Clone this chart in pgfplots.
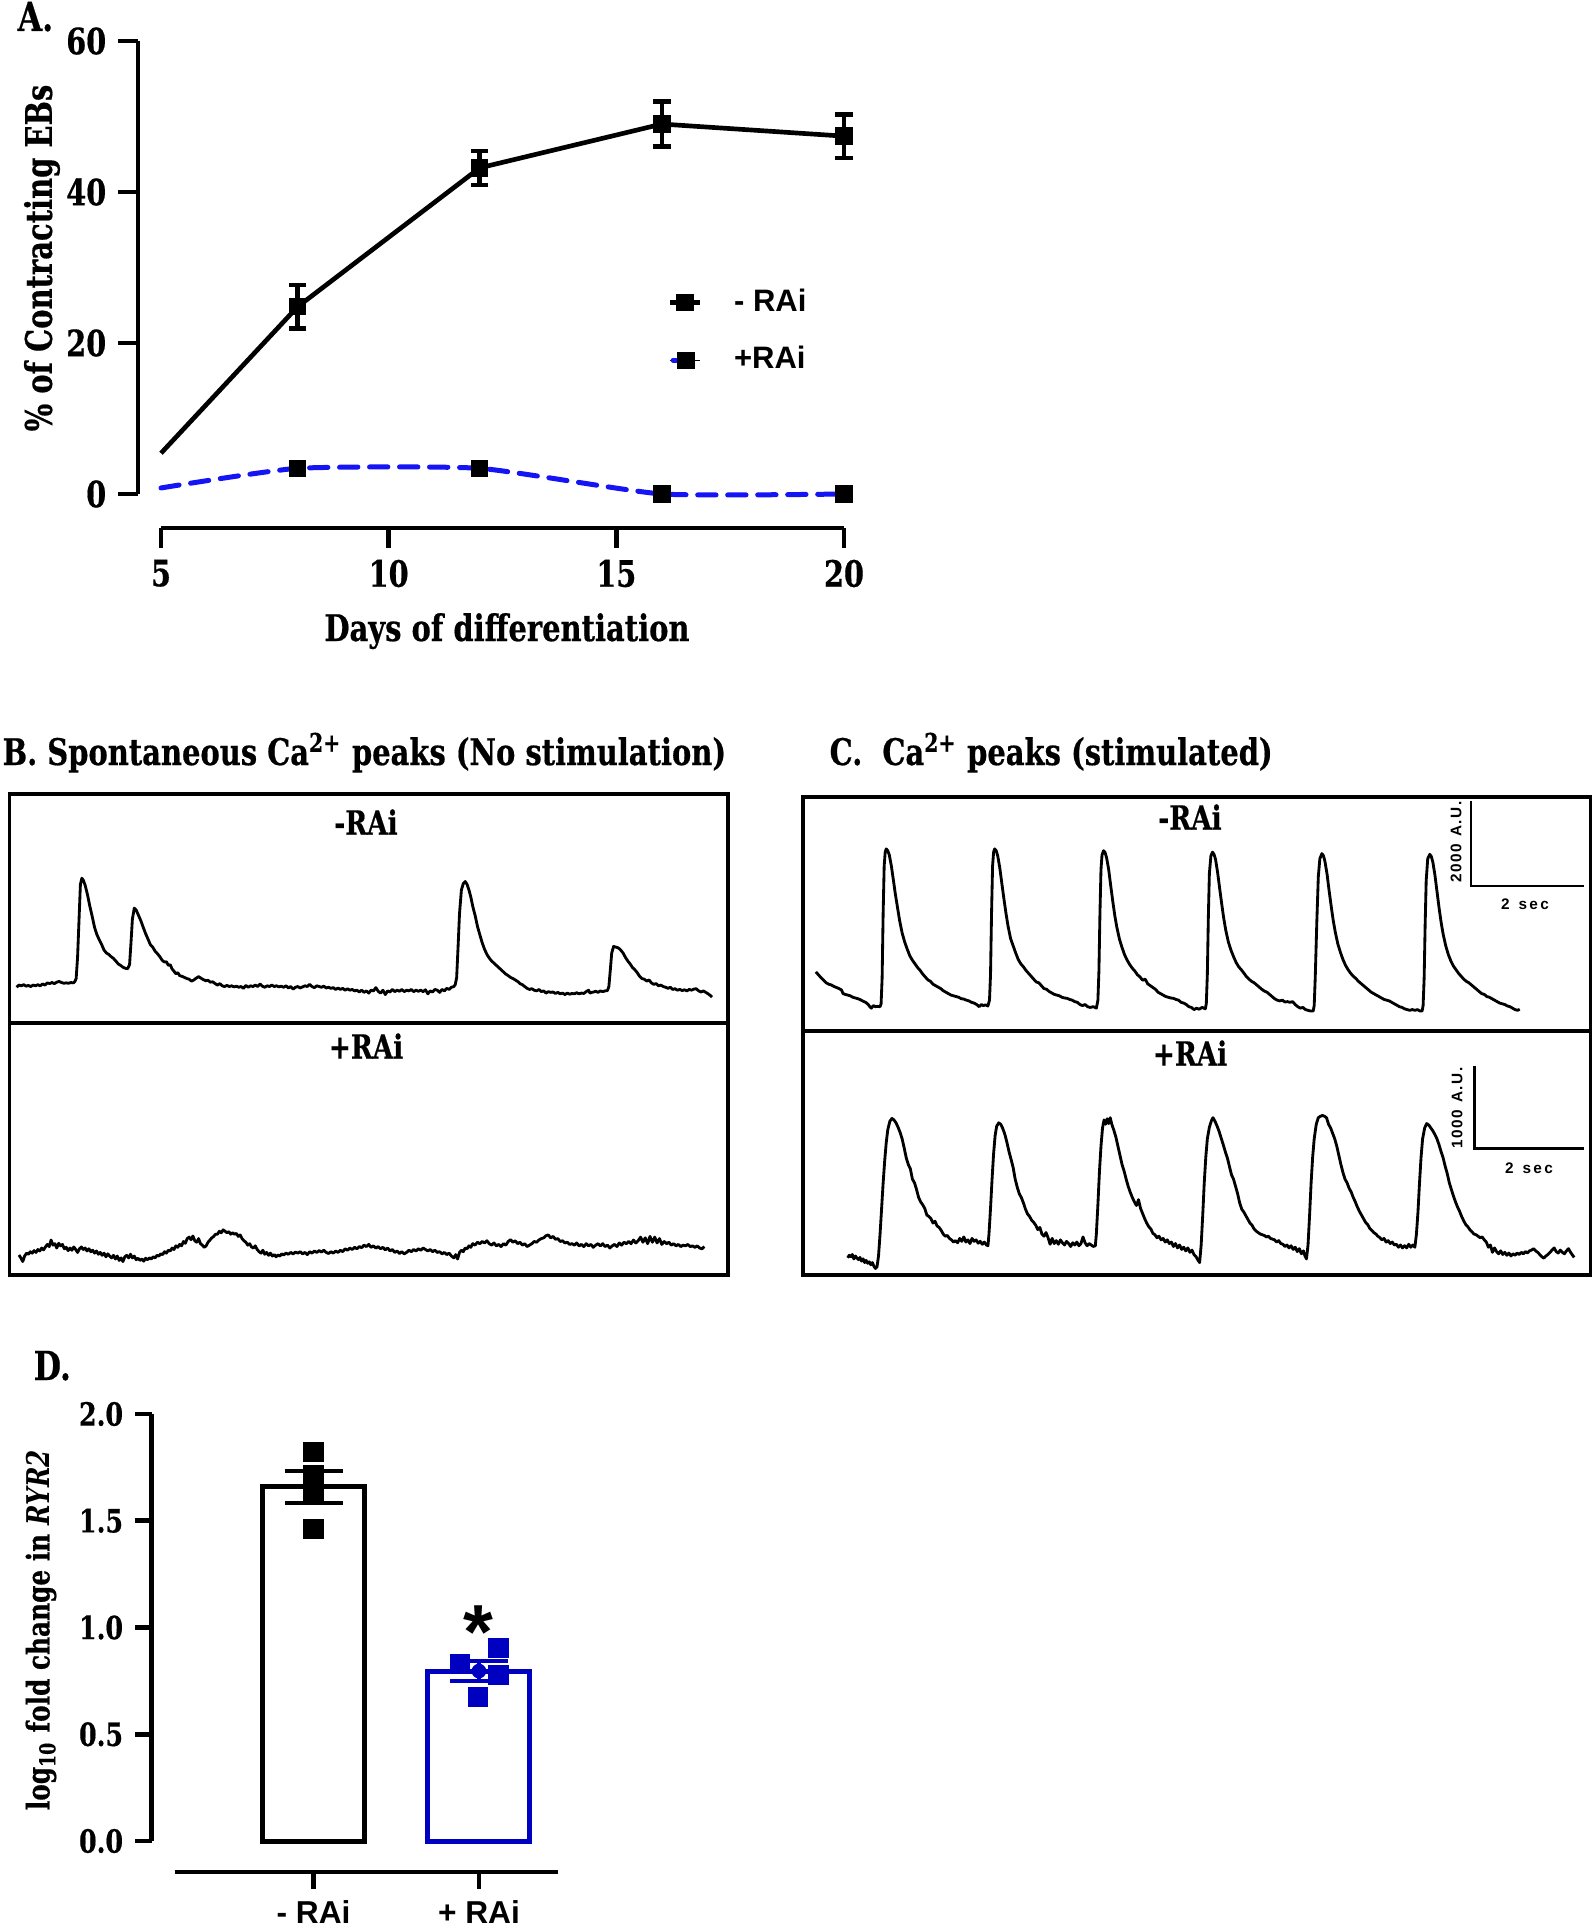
\documentclass[border=0pt]{standalone}
\usepackage{pgfplots}
\pgfplotsset{compat=1.18}
\usepackage{fontspec}
\setmainfont{DejaVu Serif}[FakeStretch=0.79, BoldFeatures={FakeBold=0.5}]
\newfontfamily\sansfam{Liberation Sans}
\definecolor{ablue}{RGB}{20,20,245}
\definecolor{dblue}{RGB}{0,0,192}
\newcommand{\fs}[1]{\fontsize{#1}{#1}\selectfont}
\newcommand{\ls}{\kern0.45pt}
\newcommand{\lt}{\kern0.7pt}
\pgfplotsset{
  tracebox/.style={scale only axis, anchor=south west,
    xtick=\empty, ytick=\empty, y dir=reverse,
    axis line style={line width=1pt}},
  trace/.style={black, line width=0.85pt, mark=none, line join=round},
}
\begin{document}
\begin{tikzpicture}[x=0.3pt,y=0.3pt]
\useasboundingbox (0,0) rectangle (1594,-1930);

% ---------------- Panel A ----------------
\begin{axis}[
  at={(48.3pt,-148.2pt)}, anchor=south west, scale only axis,
  width=204.9pt, height=135.9pt,
  xmin=5, xmax=20, ymin=0, ymax=60,
  axis lines=left,
  axis line style={line width=1.4pt, -},
  axis x line shift=10.2pt, axis y line shift=6.9pt,
  xtick={5,10,15,20}, ytick={0,20,40,60},
  tick align=outside, major tick length=6pt,
  tick style={black, line width=1.4pt},
  ticklabel style={font=\bfseries\fs{10.9}},
  /pgf/number format/assume math mode=true,
  clip=false,
  legend style={at={(0.741,0.3587)}, anchor=west, draw=none, fill=none,
    inner sep=0pt, row sep=5pt, font=\sansfam\bfseries\fs{9.3},
    /tikz/every odd column/.append style={column sep=7.5pt}},
  legend cell align=left,
]
\addplot[black, line width=1.4pt, forget plot] coordinates {(5,5.4) (8,24.8) (12,43.2) (16,49.0) (20,47.4)};
\addplot[ablue, line width=1.5pt, dash pattern=on 5.5pt off 3.5pt, line cap=round, smooth, tension=0.3, forget plot]
  coordinates {(5,0.8) (8,3.4) (12,3.4) (16,0) (20,0)};
\addplot[only marks, mark=square*, mark size=2.4pt, black, forget plot,
  error bars/.cd, y dir=both, y explicit,
  error bar style={line width=1.4pt, black},
  error mark options={rotate=90, mark size=2.6pt, line width=1.4pt, black}]
  coordinates {(8,24.8) +- (0,2.9) (12,43.2) +- (0,2.25) (16,49.0) +- (0,3.0) (20,47.4) +- (0,2.9)};
\addplot[only marks, mark=square*, mark size=2.4pt, black, forget plot]
  coordinates {(8,3.4) (12,3.4) (16,0) (20,0)};
\addlegendimage{legend image code/.code={
  \draw[black,line width=1.4pt] (0pt,0pt) -- (9pt,0pt);
  \draw plot[only marks, black, mark=square*, mark size=2.4pt] coordinates {(4.5pt,0pt)};}}
\addlegendentry{- RAi}
\addlegendimage{legend image code/.code={
  \path (0pt,0pt) -- (9pt,0pt);
  \draw[ablue,line width=1.5pt,line cap=round] (0.9pt,0pt) -- (3.5pt,0pt);
  \draw plot[only marks, black, mark=square*, mark size=2.4pt] coordinates {(4.8pt,0pt)};}}
\addlegendentry{+RAi}
\end{axis}
\node[anchor=base west, inner sep=0] at (17,-31) {\bfseries\fs{12}A.};
\node[anchor=base, inner sep=0] at (507,-641) {\bfseries\fs{11}Days of differentiation};
\node[rotate=90, inner sep=0] at (42,-258) {\bfseries\fs{11}\% of Contracting EBs};

% ---------------- Titles B, C ----------------
\node[anchor=base west, inner sep=0] at (2,-765) {\bfseries\fs{11}B. Spontaneous Ca\textsuperscript{2+} peaks (No stimulation)};
\node[anchor=base west, inner sep=0] at (829,-765) {\bfseries\fs{11}C.\ \ Ca\textsuperscript{2+} peaks (stimulated)};

% ---------------- Panel B top ----------------
\begin{axis}[tracebox, at={(2.85pt,-306.9pt)}, width=215.55pt, height=68.7pt,
  xmin=20, xmax=1540, ymin=232, ymax=860]
\addplot[trace] coordinates {
(35,762) (40,756) (45,758) (50,755) (55,759) (60,757) (65,760) (70,756) (75,758) (80,755) (85,758) (90,753) (95,756) (100,750) (105,752) (110,749) (115,752) (120,748) (125,746) (130,749) (135,751) (140,750) (145,751) (150,749) (155,750) (158,747) (161,738) (164,680) (167,580) (170,480) (173,463) (176,468) (180,482) (185,508) (190,540) (195,568) (200,598) (205,618) (210,632) (215,645) (220,660) (225,668) (230,672) (235,678) (240,683) (245,690) (250,698) (255,702) (260,707) (265,710) (270,711) (274,700) (277,640) (280,575) (284,545) (288,550) (293,565) (298,580) (303,598) (308,615) (313,630) (318,645) (323,652) (328,663) (333,670) (338,678) (343,688) (348,693) (352,692) (356,702) (360,700) (364,712) (368,718) (372,725) (376,722) (380,730) (385,732) (390,735) (395,738) (400,740) (405,745) (410,742) (415,737) (420,733) (425,737) (430,741) (435,744) (440,743) (445,748) (450,747) (455,752) (460,756) (465,752) (470,758) (475,760) (480,757) (485,760) (490,758) (495,761) (500,759) (505,762) (510,760) (515,765) (520,757) (525,762) (530,758) (535,760) (540,756) (545,760) (550,753) (555,759) (560,762) (565,758) (570,760) (575,756) (580,760) (585,758) (590,761) (595,759) (600,762) (605,758) (610,764) (615,760) (620,767) (625,762) (630,760) (635,764) (640,761) (645,758) (650,760) (655,754) (660,760) (665,763) (670,758) (675,760) (680,762) (685,759) (690,764) (695,762) (700,765) (705,763) (710,768) (715,764) (720,768) (725,765) (730,770) (735,766) (740,770) (745,768) (750,772) (755,770) (760,775) (765,770) (770,776) (775,772) (780,778) (785,770) (790,772) (795,763) (800,773) (805,778) (810,770) (815,782) (820,772) (825,775) (830,768) (835,774) (840,770) (845,773) (850,768) (855,774) (860,770) (865,772) (870,768) (875,774) (880,770) (885,773) (890,770) (895,774) (900,769) (905,780) (910,772) (915,775) (920,768) (925,770) (930,776) (935,768) (940,772) (945,765) (950,768) (955,762) (960,760) (963,755) (966,735) (969,650) (972,560) (976,495) (980,478) (984,472) (988,480) (992,495) (996,515) (1000,540) (1005,565) (1010,595) (1015,618) (1020,640) (1025,658) (1030,672) (1035,682) (1040,690) (1045,696) (1050,702) (1055,708) (1060,714) (1065,720) (1070,726) (1075,730) (1080,735) (1085,738) (1090,742) (1095,746) (1100,752) (1105,755) (1110,760) (1115,765) (1120,768) (1125,766) (1130,770) (1135,772) (1140,768) (1145,774) (1150,772) (1155,778) (1160,774) (1165,776) (1170,775) (1175,779) (1180,776) (1185,780) (1190,778) (1195,782) (1200,778) (1205,781) (1210,779) (1215,780) (1220,777) (1225,780) (1230,778) (1235,779) (1240,774) (1245,770) (1248,778) (1252,776) (1256,775) (1260,773) (1265,776) (1270,772) (1275,774) (1280,772) (1285,771) (1288,760) (1291,715) (1294,668) (1298,650) (1303,652) (1308,654) (1313,660) (1318,668) (1323,680) (1328,690) (1333,698) (1338,708) (1343,714) (1348,722) (1353,732) (1358,738) (1363,740) (1368,745) (1373,742) (1378,750) (1383,754) (1388,752) (1393,758) (1398,756) (1403,760) (1408,762) (1413,765) (1418,762) (1423,768) (1428,766) (1433,770) (1438,768) (1443,771) (1448,769) (1453,772) (1458,768) (1463,770) (1468,767) (1473,766) (1478,772) (1483,775) (1488,772) (1493,776) (1498,780) (1503,785) (1506,789)};
\end{axis}

% ---------------- Panel B bottom ----------------
\begin{axis}[tracebox, at={(2.85pt,-382.5pt)}, width=215.55pt, height=75.6pt,
  xmin=20, xmax=1540, ymin=860, ymax=1552]
\addplot[trace] coordinates {
(40,1497) (44,1505) (48,1515) (52,1500) (56,1492) (60,1495) (64,1488) (68,1492) (72,1485) (76,1490) (80,1482) (84,1486) (88,1478) (92,1483) (96,1475) (100,1468) (104,1474) (108,1456) (112,1470) (116,1466) (120,1478) (124,1465) (128,1472) (132,1468) (136,1480) (140,1476) (144,1485) (148,1478) (152,1484) (156,1475) (160,1482) (164,1490) (168,1480) (172,1475) (176,1482) (180,1478) (184,1486) (188,1480) (192,1488) (196,1484) (200,1492) (204,1486) (208,1495) (212,1490) (216,1498) (220,1492) (224,1502) (228,1494) (232,1500) (236,1505) (240,1498) (244,1508) (248,1500) (252,1512) (256,1505) (260,1515) (264,1502) (268,1498) (272,1505) (276,1495) (280,1505) (284,1500) (288,1510) (292,1506) (296,1512) (300,1508) (304,1514) (308,1506) (312,1510) (316,1505) (320,1508) (324,1502) (328,1505) (332,1498) (336,1500) (340,1494) (344,1496) (348,1488) (352,1492) (356,1484) (360,1486) (364,1478) (368,1482) (372,1472) (376,1476) (380,1468) (384,1472) (388,1460) (392,1465) (396,1452) (400,1448) (404,1455) (408,1445) (412,1458) (416,1462) (420,1452) (424,1466) (428,1470) (432,1476) (436,1472) (440,1462) (444,1456) (448,1450) (452,1446) (456,1440) (460,1440) (464,1432) (468,1436) (472,1428) (476,1432) (480,1436) (484,1433) (488,1440) (492,1436) (496,1440) (500,1438) (504,1446) (508,1442) (512,1452) (516,1458) (520,1462) (524,1470) (528,1466) (532,1475) (536,1478) (540,1472) (544,1482) (548,1488) (552,1492) (556,1484) (560,1495) (564,1490) (568,1498) (572,1492) (576,1500) (580,1496) (584,1502) (588,1497) (592,1500) (596,1494) (600,1497) (605,1492) (610,1495) (615,1490) (620,1494) (625,1489) (630,1492) (635,1488) (640,1494) (645,1490) (650,1496) (655,1488) (660,1492) (665,1486) (670,1490) (675,1485) (680,1489) (685,1484) (690,1490) (695,1493) (700,1488) (705,1492) (710,1486) (715,1490) (720,1484) (725,1488) (730,1480) (735,1484) (740,1478) (745,1482) (750,1476) (755,1480) (760,1474) (765,1477) (770,1470) (775,1474) (780,1468) (785,1476) (790,1472) (795,1478) (800,1474) (805,1480) (810,1476) (815,1483) (820,1478) (825,1486) (830,1482) (835,1490) (840,1486) (845,1493) (850,1488) (855,1494) (860,1490) (865,1484) (870,1488) (875,1482) (880,1486) (885,1480) (890,1484) (895,1478) (900,1482) (905,1486) (910,1482) (915,1488) (920,1484) (925,1490) (930,1488) (935,1494) (940,1490) (945,1496) (950,1492) (955,1500) (960,1505) (964,1496) (968,1508) (972,1490) (976,1484) (980,1488) (984,1478) (988,1480) (992,1472) (996,1476) (1000,1466) (1005,1470) (1010,1462) (1015,1466) (1020,1460) (1025,1464) (1030,1458) (1035,1466) (1040,1470) (1045,1464) (1050,1472) (1055,1468) (1060,1474) (1065,1466) (1070,1470) (1075,1460) (1080,1455) (1085,1462) (1090,1458) (1095,1466) (1100,1462) (1105,1470) (1110,1466) (1115,1474) (1120,1470) (1125,1466) (1130,1460) (1135,1462) (1140,1456) (1145,1452) (1150,1450) (1155,1444) (1160,1442) (1165,1450) (1170,1446) (1175,1454) (1180,1452) (1185,1460) (1190,1458) (1195,1464) (1200,1462) (1205,1468) (1210,1466) (1215,1470) (1220,1464) (1225,1472) (1230,1468) (1235,1474) (1240,1466) (1245,1472) (1250,1468) (1255,1476) (1260,1470) (1265,1466) (1270,1472) (1275,1466) (1280,1474) (1285,1470) (1290,1478) (1295,1472) (1300,1468) (1305,1474) (1310,1464) (1315,1470) (1320,1462) (1325,1466) (1330,1460) (1335,1466) (1340,1456) (1345,1464) (1350,1458) (1355,1448) (1360,1462) (1365,1450) (1370,1466) (1375,1446) (1380,1462) (1385,1448) (1390,1464) (1395,1452) (1400,1468) (1405,1460) (1410,1466) (1415,1462) (1420,1470) (1425,1466) (1430,1472) (1435,1468) (1440,1474) (1445,1470) (1450,1472) (1455,1468) (1460,1474) (1465,1472) (1470,1476) (1475,1472) (1480,1478) (1485,1480) (1490,1474)};
\end{axis}
\node[inner sep=0] at (366,-822) {\bfseries\fs{10}-RAi};
\node[inner sep=0] at (366,-1046) {\bfseries\fs{10}+RAi};

% ---------------- Panel C top ----------------
\begin{axis}[tracebox, at={(240.9pt,-309.3pt)}, width=236.28pt, height=70.2pt,
  xmin=25, xmax=1558, ymin=240, ymax=885]
\addplot[trace] coordinates {
(50,722) (55,730) (60,738) (65,745) (70,752) (75,756) (80,758) (85,762) (90,765) (95,768) (100,772) (103,782) (107,784) (112,786) (117,788) (122,792) (127,794) (132,796) (137,799) (142,803) (147,806) (152,812) (155,818) (158,822) (162,815) (166,818) (170,817) (175,818)
(177,810) (179,740) (181,560) (183,430) (185,392) (187,383) (190,388) (193,400) (197,430) (201,470) (205,510) (209,545) (213,580) (218,615) (223,640) (228,660) (233,678) (238,690) (243,700) (248,710) (253,718) (258,728) (263,736) (268,744) (273,748) (278,756) (283,760) (288,764) (293,768) (298,774) (303,778) (308,782) (313,786) (318,788) (323,790) (328,792) (333,796) (338,797) (343,800) (348,802) (353,806) (358,808) (363,812) (368,818) (372,812) (376,815) (380,813) (385,816)
(388,800) (390,730) (392,560) (394,430) (396,392) (398,383) (401,388) (404,402) (408,435) (412,478) (416,520) (420,560) (424,595) (429,630) (434,650) (439,670) (444,688) (449,700) (454,708) (459,718) (464,726) (469,734) (474,742) (479,750) (484,752) (489,760) (494,768) (499,770) (504,776) (509,780) (514,784) (519,786) (524,788) (529,792) (534,794) (539,795) (544,798) (549,800) (554,804) (559,806) (564,812) (569,815) (574,812) (579,818) (584,820) (590,818) (596,822)
(599,800) (601,720) (603,560) (605,440) (607,400) (610,388) (613,393) (616,408) (620,440) (624,485) (628,528) (632,568) (636,600) (641,632) (646,655) (651,675) (656,690) (661,702) (666,712) (671,720) (676,730) (681,736) (686,745) (691,742) (696,755) (701,760) (706,765) (711,770) (716,778) (721,782) (726,786) (731,790) (736,792) (741,794) (746,795) (751,798) (756,800) (761,806) (766,808) (771,812) (776,818) (781,820) (786,826) (791,822) (796,825) (802,820) (808,824)
(810,810) (812,730) (814,570) (816,450) (819,402) (822,392) (825,398) (828,412) (832,448) (836,492) (840,535) (844,575) (848,608) (853,640) (858,662) (863,680) (868,696) (873,708) (878,716) (883,725) (888,735) (893,742) (898,748) (903,752) (908,758) (913,764) (918,770) (923,775) (928,778) (933,784) (938,790) (943,796) (948,800) (953,802) (958,800) (963,805) (968,804) (973,806) (978,804) (983,812) (988,818) (993,822) (998,820) (1003,826) (1008,828) (1013,830) (1018,830)
(1020,815) (1022,740) (1025,590) (1028,460) (1031,410) (1035,396) (1038,402) (1041,418) (1045,452) (1049,498) (1053,540) (1057,580) (1061,612) (1066,645) (1071,668) (1076,688) (1081,704) (1086,716) (1091,726) (1096,734) (1101,740) (1106,748) (1111,754) (1116,760) (1121,766) (1126,772) (1131,778) (1136,782) (1141,786) (1146,790) (1151,794) (1156,798) (1161,800) (1166,802) (1171,806) (1176,810) (1181,814) (1186,818) (1191,820) (1196,824) (1201,826) (1206,828) (1211,826) (1216,828) (1221,826) (1226,830) (1230,830)
(1232,815) (1234,740) (1236,590) (1238,470) (1241,410) (1245,398) (1248,404) (1251,420) (1255,455) (1259,500) (1263,545) (1267,585) (1271,618) (1276,650) (1281,674) (1286,692) (1291,706) (1296,716) (1301,726) (1306,734) (1311,742) (1316,748) (1321,752) (1326,758) (1331,764) (1336,770) (1341,776) (1346,782) (1351,784) (1356,790) (1361,792) (1366,796) (1371,800) (1376,804) (1381,808) (1386,810) (1391,812) (1396,816) (1401,818) (1406,822) (1411,826) (1416,828) (1420,825)};
\addplot[black, line width=0.8pt] coordinates {(1325,250) (1325,485) (1545,485)};
\end{axis}

% ---------------- Panel C bottom ----------------
\begin{axis}[tracebox, at={(240.9pt,-382.5pt)}, width=236.28pt, height=73.2pt,
  xmin=25, xmax=1558, ymin=885, ymax=1552]
\addplot[trace] coordinates {
(112,1505) (115,1498) (118,1502) (121,1496) (124,1508) (127,1500) (130,1506) (133,1510) (136,1504) (139,1514) (142,1508) (145,1518) (148,1512) (151,1520) (154,1516) (157,1524) (160,1518) (163,1528) (166,1534) (169,1530) (172,1500) (175,1440) (178,1370) (181,1300) (184,1240) (187,1190) (190,1155) (194,1132) (198,1124) (202,1128) (206,1136) (210,1148) (214,1162) (218,1180) (222,1205) (226,1232) (230,1250) (234,1262) (238,1290) (242,1300) (246,1318) (250,1340) (254,1352) (258,1360) (262,1370) (266,1388) (270,1392) (274,1398) (278,1410) (282,1405) (286,1418) (290,1422) (294,1430) (298,1440) (302,1446) (306,1444) (310,1452) (314,1456) (318,1462) (322,1458) (326,1464) (330,1452) (334,1460) (338,1448) (342,1462) (346,1456) (350,1466) (354,1452) (358,1460) (362,1456) (366,1465) (370,1460) (374,1468) (378,1462) (382,1470) (385,1472)
(387,1440) (390,1370) (393,1290) (396,1220) (399,1170) (402,1145) (406,1136) (410,1140) (414,1152) (418,1168) (422,1190) (426,1215) (430,1236) (434,1258) (438,1290) (442,1312) (446,1330) (450,1340) (454,1355) (458,1372) (462,1385) (466,1392) (470,1402) (474,1408) (478,1416) (482,1428) (486,1422) (490,1440) (494,1446) (498,1436) (502,1450) (506,1468) (510,1452) (514,1466) (518,1458) (522,1468) (526,1456) (530,1464) (534,1470) (538,1460) (542,1466) (546,1474) (550,1464) (554,1470) (558,1462) (562,1472) (566,1466) (570,1448) (574,1464) (578,1472) (582,1466) (586,1470) (590,1474) (594,1472)
(596,1440) (599,1360) (602,1270) (605,1200) (608,1150) (611,1128) (614,1140) (617,1125) (620,1138) (623,1122) (626,1140) (630,1156) (634,1175) (638,1200) (642,1225) (646,1250) (650,1268) (654,1290) (658,1310) (662,1326) (666,1340) (670,1352) (674,1362) (678,1346) (682,1370) (686,1384) (690,1398) (694,1410) (698,1420) (702,1426) (706,1438) (710,1442) (714,1450) (718,1446) (722,1456) (726,1452) (730,1462) (734,1456) (738,1466) (742,1462) (746,1474) (750,1466) (754,1478) (758,1470) (762,1482) (766,1476) (770,1486) (774,1478) (778,1490) (782,1484) (786,1496) (790,1502) (794,1512) (797,1518)
(800,1470) (803,1390) (806,1300) (809,1230) (812,1180) (816,1148) (820,1130) (823,1122) (827,1132) (831,1145) (835,1160) (839,1178) (843,1196) (847,1215) (851,1232) (855,1255) (859,1278) (863,1290) (867,1310) (871,1330) (875,1355) (879,1372) (883,1380) (887,1390) (891,1400) (895,1410) (899,1416) (903,1426) (907,1432) (911,1436) (915,1440) (919,1442) (923,1444) (927,1448) (931,1446) (935,1452) (939,1454) (943,1456) (947,1462) (951,1458) (955,1466) (959,1468) (963,1474) (967,1470) (971,1478) (975,1472) (979,1482) (983,1476) (987,1488) (991,1480) (995,1494) (999,1486) (1002,1500) (1005,1508)
(1008,1470) (1011,1390) (1014,1300) (1017,1230) (1020,1180) (1024,1140) (1028,1122) (1032,1118) (1036,1116) (1040,1118) (1044,1122) (1048,1140) (1052,1150) (1056,1165) (1060,1180) (1064,1200) (1068,1225) (1072,1250) (1076,1272) (1080,1290) (1084,1300) (1088,1315) (1092,1325) (1096,1340) (1100,1352) (1104,1366) (1108,1378) (1112,1388) (1116,1398) (1120,1408) (1124,1414) (1128,1424) (1132,1430) (1136,1436) (1140,1440) (1144,1446) (1148,1450) (1152,1456) (1156,1452) (1160,1462) (1164,1458) (1168,1466) (1172,1462) (1176,1470) (1180,1468) (1184,1476) (1188,1470) (1192,1478) (1196,1472) (1200,1478) (1204,1468) (1208,1476) (1212,1470) (1216,1476)
(1219,1440) (1222,1380) (1225,1300) (1228,1230) (1231,1180) (1235,1150) (1239,1138) (1243,1142) (1247,1150) (1251,1158) (1255,1168) (1259,1180) (1263,1196) (1267,1215) (1271,1232) (1275,1255) (1279,1275) (1283,1300) (1287,1318) (1291,1336) (1295,1352) (1299,1366) (1303,1378) (1307,1392) (1311,1404) (1315,1414) (1319,1420) (1323,1428) (1327,1434) (1331,1440) (1335,1442) (1339,1446) (1343,1450) (1347,1448) (1351,1456) (1355,1462) (1359,1476) (1363,1470) (1367,1490) (1371,1478) (1375,1488) (1379,1494) (1383,1486) (1387,1496) (1391,1490) (1395,1498) (1399,1492) (1403,1500) (1407,1494) (1411,1498) (1415,1492) (1419,1496) (1423,1490) (1427,1494) (1431,1488) (1435,1492) (1439,1486) (1443,1484) (1447,1480) (1451,1486) (1455,1490) (1459,1496) (1463,1502) (1467,1506) (1471,1500) (1475,1496) (1479,1490) (1483,1484) (1487,1478) (1491,1488) (1495,1492) (1499,1484) (1503,1490) (1507,1494) (1511,1486) (1515,1480) (1519,1490) (1523,1498) (1526,1504)};
\addplot[black, line width=0.8pt] coordinates {(1332,980) (1332,1207) (1545,1207)};
\end{axis}
\node[inner sep=0] at (1190,-817) {\bfseries\fs{10}-RAi};
\node[inner sep=0] at (1190,-1053) {\bfseries\fs{10}+RAi};
\node[rotate=90, inner sep=0] at (1456,-842) {\sansfam\bfseries\fs{4.6}2\ls0\ls0\ls0\ls\ \ls A\ls.\ls U\ls.};
\node[inner sep=0] at (1525,-904) {\sansfam\bfseries\fs{4.6}2\lt\ \lt s\lt e\lt c};
\node[rotate=90, inner sep=0] at (1457,-1108) {\sansfam\bfseries\fs{4.6}1\ls0\ls0\ls0\ls\ \ls A\ls.\ls U\ls.};
\node[inner sep=0] at (1529,-1168) {\sansfam\bfseries\fs{4.6}2\lt\ \lt s\lt e\lt c};

% ---------------- Panel D ----------------
\begin{axis}[
  at={(52.35pt,-552.3pt)}, anchor=south west, scale only axis,
  width=115.05pt, height=128.1pt,
  xmin=-0.841, xmax=1.478, ymin=0, ymax=2,
  axis lines=left, axis line style={line width=1.4pt,-},
  axis x line shift=9.3pt, axis y line shift=6.9pt,
  xtick={0,1}, xticklabels={- RAi,+ RAi},
  ytick={0,0.5,1,1.5,2},
  /pgf/number format/fixed, /pgf/number format/fixed zerofill, /pgf/number format/precision=1,
  /pgf/number format/assume math mode=true,
  tick align=outside, major tick length=5pt,
  tick style={black, line width=1.4pt},
  yticklabel style={font=\bfseries\fs{9.6}},
  xticklabel style={font=\sansfam\bfseries\fs{9.5}},
  clip=false,
]
\addplot[ybar, bar width=30.6pt, draw=black, fill=white, line width=1.5pt] coordinates {(0,1.659)};
\addplot[ybar, bar width=30.6pt, draw=dblue, fill=white, line width=1.5pt] coordinates {(1,0.796)};
\addplot[only marks, mark=square*, mark size=2.85pt, black] coordinates {(0,1.822) (0,1.714) (0,1.639) (0,1.461)};
\addplot[only marks, mark=square*, mark size=2.85pt, dblue] coordinates {(1.118,0.904) (0.885,0.828) (1.118,0.778) (0.994,0.676)};
\addplot[only marks, mark=none, black, error bars/.cd, y dir=both, y explicit,
  error bar style={line width=1.2pt, black},
  error mark options={rotate=90, mark size=8.7pt, line width=1.2pt, black}]
  coordinates {(0,1.659) +- (0,0.076)};
\addplot[only marks, mark=none, dblue, error bars/.cd, y dir=both, y explicit,
  error bar style={line width=1.2pt, dblue},
  error mark options={rotate=90, mark size=8.7pt, line width=1.2pt, dblue}]
  coordinates {(1,0.796) +- (0,0.047)};
\end{axis}
\node[anchor=base west, inner sep=0] at (33,-1380) {\bfseries\fs{12}D.};
\node[rotate=90, inner sep=0] at (41,-1630) {\bfseries\fs{9.4}log\textsubscript{10} fold change in \textit{RYR2}};
\node[anchor=base, inner sep=0] at (478,-1658) {\sansfam\bfseries\fs{23}*};
\end{tikzpicture}
\end{document}
